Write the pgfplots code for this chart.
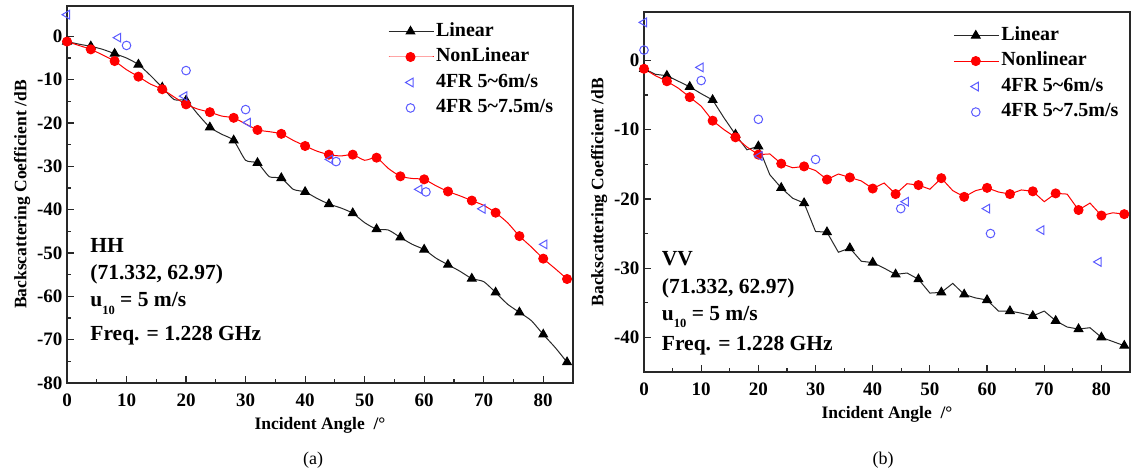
\documentclass[border=0pt]{standalone}
\usepackage{fontspec}
\setmainfont{Liberation Serif}
\usepackage{pgfplots}
\usepackage{pgfplotstable}
\pgfplotsset{compat=1.18}

\pgfplotstableread{
x y
0 -1.2
2 -1.8
4 -2.3
6 -3.0
8 -4.0
10 -5.0
12 -6.5
14 -9.0
16 -11.8
18 -14.6
20 -14.8
22 -18.0
24 -21.0
26 -22.6
28 -24.0
30 -28.6
32 -29.2
34 -32.4
36 -32.7
38 -35.3
40 -35.9
42 -37.4
44 -38.7
46 -39.6
48 -40.8
50 -43.0
52 -44.5
54 -44.7
56 -46.4
58 -48.0
60 -49.2
62 -51.2
64 -52.7
66 -54.2
68 -55.9
70 -56.6
72 -59.1
74 -61.8
76 -63.7
78 -65.6
80 -68.8
82 -71.8
84 -75.2
}\hhlin

\pgfplotstableread{
x y
0 -1.2
2 -2.1
4 -3.0
6 -4.3
8 -5.7
10 -7.7
12 -9.3
14 -11.0
16 -12.2
18 -14.0
20 -15.7
22 -16.8
24 -17.5
26 -18.4
28 -18.8
30 -20.2
32 -21.6
34 -22.0
36 -22.5
38 -24.0
40 -25.3
42 -26.5
44 -27.3
46 -27.6
48 -27.3
50 -28.6
52 -28.0
54 -30.5
56 -32.3
58 -32.8
60 -33.0
62 -34.5
64 -35.8
66 -36.8
68 -37.9
70 -39.0
72 -40.7
74 -43.0
76 -46.1
78 -48.6
80 -51.3
82 -53.6
84 -56.0
}\hhnon

\pgfplotstableread{
x y
0 -1.2
2 -2.0
4 -2.2
6 -3.0
8 -3.8
10 -4.8
12 -5.7
14 -8.3
16 -10.7
18 -12.9
20 -12.4
22 -16.5
24 -18.4
26 -19.9
28 -20.6
30 -24.7
32 -24.8
34 -27.7
36 -27.1
38 -29.0
40 -29.2
42 -30.0
44 -30.9
46 -30.7
48 -31.6
50 -33.6
52 -33.5
54 -32.2
56 -33.8
58 -34.3
60 -34.6
62 -36.2
64 -36.2
66 -36.5
68 -36.9
70 -36.2
72 -37.6
74 -38.5
76 -38.8
78 -38.6
80 -40.0
82 -40.6
84 -41.2
}\vvlin

\pgfplotstableread{
x y
0 -1.2
2 -2.2
4 -3.0
6 -4.0
8 -5.3
10 -6.6
12 -8.7
14 -10.0
16 -11.1
18 -12.5
20 -13.6
22 -13.5
24 -14.9
26 -15.5
28 -15.3
30 -15.9
32 -17.2
34 -16.4
36 -16.9
38 -17.4
40 -18.5
42 -17.7
44 -19.3
46 -17.8
48 -18.0
50 -18.6
52 -17.0
54 -18.8
56 -19.7
58 -18.8
60 -18.4
62 -19.0
64 -19.3
66 -18.7
68 -18.9
70 -20.4
72 -19.2
74 -19.3
76 -21.6
78 -20.6
80 -22.4
82 -22.0
84 -22.2
}\vvnon

\definecolor{fr}{RGB}{90,90,255}
\definecolor{ax}{RGB}{40,40,40}

\pgfplotsset{
  panel/.style={
    scale only axis, anchor=south west,
    xmin=0, xmax=85,
    xtick={0,10,...,80},
    minor x tick num=1, minor y tick num=1,
    tick align=inside, xtick pos=left, ytick pos=left,
    major tick length=7pt, minor tick length=4pt,
    axis line style={line width=1.4pt, ax},
    every tick/.style={line width=1.2pt, ax},
    ticklabel style={font=\fontsize{19}{21}\selectfont\bfseries},
    xticklabel style={yshift=-7pt},
    yticklabel style={xshift=-1pt},
    xticklabel={\bfseries\pgfmathprintnumber[assume math mode=true]{\tick}},
    yticklabel={\bfseries\pgfmathprintnumber[assume math mode=true]{\tick}},
    xlabel={Incident Angle~~/°},
    ylabel={Backscattering Coefficient /dB},
    xlabel style={yshift=-4pt},
    label style={font=\fontsize{17.5}{19}\selectfont\bfseries},
    legend cell align=left,
    legend style={draw=none, fill=none, anchor=north west, inner sep=0pt,
      font=\fontsize{20}{22}\selectfont\bfseries, row sep=4pt,
      nodes={inner sep=2pt, text height=13.5pt, text depth=4pt}},
    /tikz/every even column/.append style={column sep=5pt},
  },
  lin/.style={color=ax, line width=1pt, mark=triangle*, mark size=5pt, mark repeat=2,
    mark options={fill=black, draw=black},
    legend image code/.code={\draw[mark repeat=2,mark phase=2,##1] plot coordinates {(0pt,0pt) (22pt,0pt) (45pt,0pt)};}},
  non/.style={color=red, line width=1pt, mark=*, mark size=4.5pt, mark repeat=2,
    mark options={fill=red, draw=red},
    legend image code/.code={\draw[mark repeat=2,mark phase=2,##1] plot coordinates {(0pt,0pt) (22pt,0pt) (45pt,0pt)};}},
  tri/.style={only marks, fr, mark=triangle, mark size=5pt, mark options={rotate=90, line width=1pt},
    legend image code/.code={\draw[mark repeat=2,mark phase=2,##1] plot coordinates {(0pt,0pt) (22pt,0pt) (45pt,0pt)};}},
  cir/.style={only marks, fr, mark=o, mark size=4.3pt, mark options={line width=1pt},
    legend image code/.code={\draw[mark repeat=2,mark phase=2,##1] plot coordinates {(0pt,0pt) (22pt,0pt) (45pt,0pt)};}},
}

\begin{document}
\begin{tikzpicture}
\useasboundingbox (0pt,0pt) rectangle (1132pt,-475pt);
% ---------------- (a) HH
\begin{axis}[panel, at={(67pt,-383pt)}, width=506pt, height=377pt,
  ymin=-80, ymax=7, ytick={-80,-70,...,0},
  legend style={at={(0.634,0.9615)}}]
\addplot[lin, smooth, tension=0.35] table {\hhlin};
\addlegendentry{Linear}
\addplot[non, smooth, tension=0.35] table {\hhnon};
\addlegendentry{NonLinear}
\addplot[tri] coordinates {(0,5.0) (8.6,-0.3) (19.7,-13.8) (30.4,-19.9) (44.2,-28.4) (59.2,-35.3) (69.8,-39.8) (80.2,-48.0)};
\addlegendentry{4FR 5\char`~6m/s}
\addplot[cir] coordinates {(10,-2.1) (20,-7.9) (30,-16.9) (45.2,-28.9) (60.3,-35.9)};
\addlegendentry{4FR 5\char`~7.5m/s}
\begin{scope}[every node/.style={anchor=base west, inner sep=0pt, font=\fontsize{21.5}{23}\selectfont\bfseries}]
\node at (axis cs:3.9,-49.9) {HH};
\node at (axis cs:3.9,-56.1) {(71.332, 62.97)};
\node at (axis cs:3.9,-62.4) {u\raisebox{-0.35em}{\fontsize{12.5}{12.5}\selectfont 10} = 5 m/s};
\node at (axis cs:3.9,-70.2) {Freq. = 1.228 GHz};
\end{scope}
\end{axis}
% ---------------- (b) VV
\begin{axis}[panel, at={(644pt,-372pt)}, width=486pt, height=360pt,
  ymin=-45, ymax=7, ytick={-40,-30,...,0},
  legend style={at={(0.636,0.965)}}]
\addplot[lin] table {\vvlin};
\addlegendentry{Linear}
\addplot[non] table {\vvnon};
\addlegendentry{Nonlinear}
\addplot[tri] coordinates {(0,5.5) (9.9,-1.0) (20.2,-13.8) (45.8,-20.4) (60,-21.4) (69.5,-24.5) (79.5,-29.1)};
\addlegendentry{4FR 5\char`~6m/s}
\addplot[cir] coordinates {(0,1.5) (10,-2.9) (20,-8.5) (30,-14.3) (44.9,-21.4) (60.6,-25.0)};
\addlegendentry{4FR 5\char`~7.5m/s}
\begin{scope}[every node/.style={anchor=base west, inner sep=0pt, font=\fontsize{21.5}{23}\selectfont\bfseries}]
\node at (axis cs:3.1,-29.6) {VV};
\node at (axis cs:3.1,-33.6) {(71.332, 62.97)};
\node at (axis cs:3.1,-37.5) {u\raisebox{-0.35em}{\fontsize{12.5}{12.5}\selectfont 10} = 5 m/s};
\node at (axis cs:3.1,-41.9) {Freq. = 1.228 GHz};
\end{scope}
\end{axis}
\node[font=\fontsize{18}{20}\selectfont] at (313pt,-460pt) {(a)};
\node[font=\fontsize{18}{20}\selectfont] at (883pt,-460pt) {(b)};
\end{tikzpicture}
\end{document}
